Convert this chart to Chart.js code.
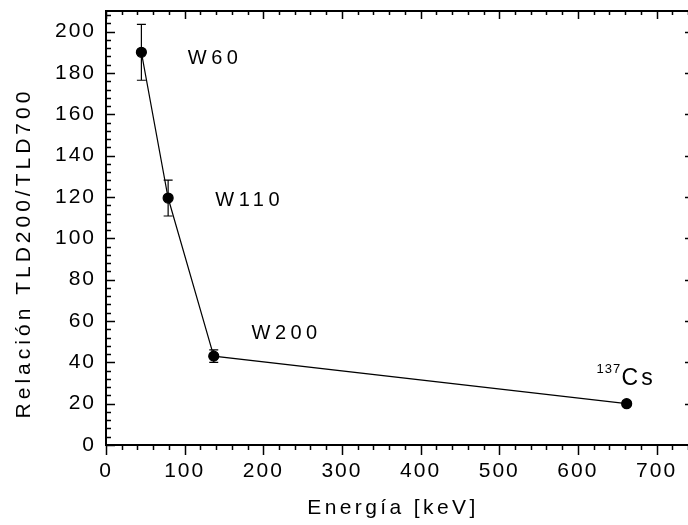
<!DOCTYPE html>
<html>
<head>
<meta charset="utf-8">
<script src="https://cdn.jsdelivr.net/npm/chart.js@4"></script>
<style>
  html, body { margin: 0; padding: 0; background: #fff; }
  #wrap { width: 688px; height: 525px; }
</style>
</head>
<body>
<div id="wrap"><canvas id="ratioChart" width="688" height="525"></canvas></div>
<script>
// data
const energies = [45, 79, 137, 662];            // keV
const ratios = [190, 119.5, 43, 20];            // TLD200/TLD700
const ratioErrors = [13.5, 8.7, 3, 1.2];
const sourceNames = ['W60', 'W110', 'W200', 'Cs'];
const xTickValues = [0, 100, 200, 300, 400, 500, 600, 700];
const yTickValues = [0, 20, 40, 60, 80, 100, 120, 140, 160, 180, 200];

// where the source labels sit (data units, left edge / vertical middle)
const labelSpots = [
    { x: 104, y: 187 },
    { x: 139, y: 118.5 },
    { x: 185, y: 54 },
    { x: 655.5, y: 32 }
];

const FONT = '"Liberation Sans", Arial, sans-serif';

function drawSpaced(ctx, text, x, y, size, spacing, align) {
    ctx.font = size + 'px ' + FONT;
    ctx.letterSpacing = spacing + 'px';
    ctx.textAlign = align || 'left';
    ctx.textBaseline = 'middle';
    ctx.fillText(text, x, y);
    ctx.letterSpacing = '0px';
}

const framePlugin = {
    id: 'frame',
    beforeDraw(chart) {
        chart.ctx.letterSpacing = '2px';
    },
    beforeDatasetsDraw(chart) {
        const ctx = chart.ctx;
        const xs = chart.scales.x, ys = chart.scales.y;
        ctx.save();
        ctx.strokeStyle = '#000';
        ctx.lineWidth = 1.2;
        // error bars
        energies.forEach(function(e, i) {
            const px = xs.getPixelForValue(e);
            const top = ys.getPixelForValue(ratios[i] + ratioErrors[i]);
            const bot = ys.getPixelForValue(ratios[i] - ratioErrors[i]);
            ctx.beginPath();
            ctx.moveTo(px, top); ctx.lineTo(px, bot);
            ctx.moveTo(px - 4.5, top); ctx.lineTo(px + 4.5, top);
            ctx.moveTo(px - 4.5, bot); ctx.lineTo(px + 4.5, bot);
            ctx.stroke();
        });
        ctx.restore();
    },
    afterDraw(chart) {
        const ctx = chart.ctx;
        const a = chart.chartArea;
        const xs = chart.scales.x, ys = chart.scales.y;
        ctx.save();
        ctx.letterSpacing = '0px';
        ctx.strokeStyle = '#000';
        ctx.fillStyle = '#000';

        // frame: left, bottom, top
        ctx.lineWidth = 2;
        ctx.beginPath();
        ctx.moveTo(a.left, a.top); ctx.lineTo(a.left, a.bottom);
        ctx.moveTo(a.left - 1, a.bottom); ctx.lineTo(a.right, a.bottom);
        ctx.moveTo(a.left - 1, a.top); ctx.lineTo(a.right, a.top);
        ctx.stroke();

        // x ticks: bottom outward, top inward
        ctx.lineWidth = 1.5;
        ctx.beginPath();
        for (let v = 0; v <= xs.max; v += 20) {
            const px = Math.round(xs.getPixelForValue(v)) + 0.5;
            const major = v % 100 === 0;
            ctx.moveTo(px, a.bottom); ctx.lineTo(px, a.bottom + (major ? 10 : 5));
            ctx.moveTo(px, a.top); ctx.lineTo(px, a.top + (major ? 8 : 4));
        }
        // y ticks: left inward, right small at majors
        for (let v = 0; v <= ys.max; v += 4) {
            const py = Math.round(ys.getPixelForValue(v)) + 0.5;
            const major = v % 20 === 0;
            ctx.moveTo(a.left, py); ctx.lineTo(a.left + (major ? 9 : 5), py);
            if (major && v > 0) { ctx.moveTo(a.right - 3, py); ctx.lineTo(a.right, py); }
        }
        ctx.stroke();

        // source labels
        labelSpots.forEach(function(s, i) {
            const px = xs.getPixelForValue(s.x);
            const py = ys.getPixelForValue(s.y);
            if (sourceNames[i] === 'Cs') {
                drawSpaced(ctx, '137', px - 25, py - 9, 13, 1);
                drawSpaced(ctx, 'Cs', px, py, 23, 3);
            } else {
                drawSpaced(ctx, sourceNames[i], px, py, 20, 4.5);
            }
        });

        // axis titles
        drawSpaced(ctx, 'Energía [keV]', (a.left + a.right) / 2 - 4, 508, 21, 3.4, 'center');
        ctx.save();
        ctx.translate(24, 255);
        ctx.rotate(-Math.PI / 2);
        drawSpaced(ctx, 'Relación TLD200/TLD700', 2, 0, 21, 4, 'center');
        ctx.restore();

        ctx.restore();
    }
};

new Chart(document.getElementById('ratioChart'), {
    type: 'line',
    data: {
        datasets: [{
            data: energies.map(function(e, i) { return { x: e, y: ratios[i] }; }),
            borderColor: '#000',
            borderWidth: 1.2,
            backgroundColor: '#000',
            pointBackgroundColor: '#000',
            pointBorderColor: '#000',
            pointRadius: 5,
            tension: 0
        }]
    },
    options: {
        responsive: false,
        animation: false,
        layout: { autoPadding: false, padding: { top: 11, right: 0, left: 0, bottom: 0 } },
        plugins: { legend: { display: false }, tooltip: { enabled: false } },
        scales: {
            x: {
                type: 'linear',
                min: 0,
                max: 740,
                afterFit: function(scale) {
                    scale.height = 80;
                    scale.paddingLeft = 0;
                    scale.paddingRight = 0;
                },
                afterBuildTicks: function(scale) {
                    scale.ticks = xTickValues.map(function(v) { return { value: v }; });
                },
                grid: { display: false, drawTicks: false },
                border: { display: false },
                ticks: {
                    autoSkip: false,
                    maxRotation: 0,
                    padding: 14,
                    color: '#000',
                    font: { family: FONT, size: 21 }
                }
            },
            y: {
                min: 0,
                max: 210,
                afterFit: function(scale) {
                    scale.width = 106;
                    scale.paddingTop = 0;
                    scale.paddingBottom = 0;
                },
                afterBuildTicks: function(scale) {
                    scale.ticks = yTickValues.map(function(v) { return { value: v }; });
                },
                grid: { display: false, drawTicks: false },
                border: { display: false },
                ticks: {
                    autoSkip: false,
                    padding: 10,
                    color: '#000',
                    font: { family: FONT, size: 21 }
                }
            }
        }
    },
    plugins: [framePlugin]
});
</script>
</body>
</html>
